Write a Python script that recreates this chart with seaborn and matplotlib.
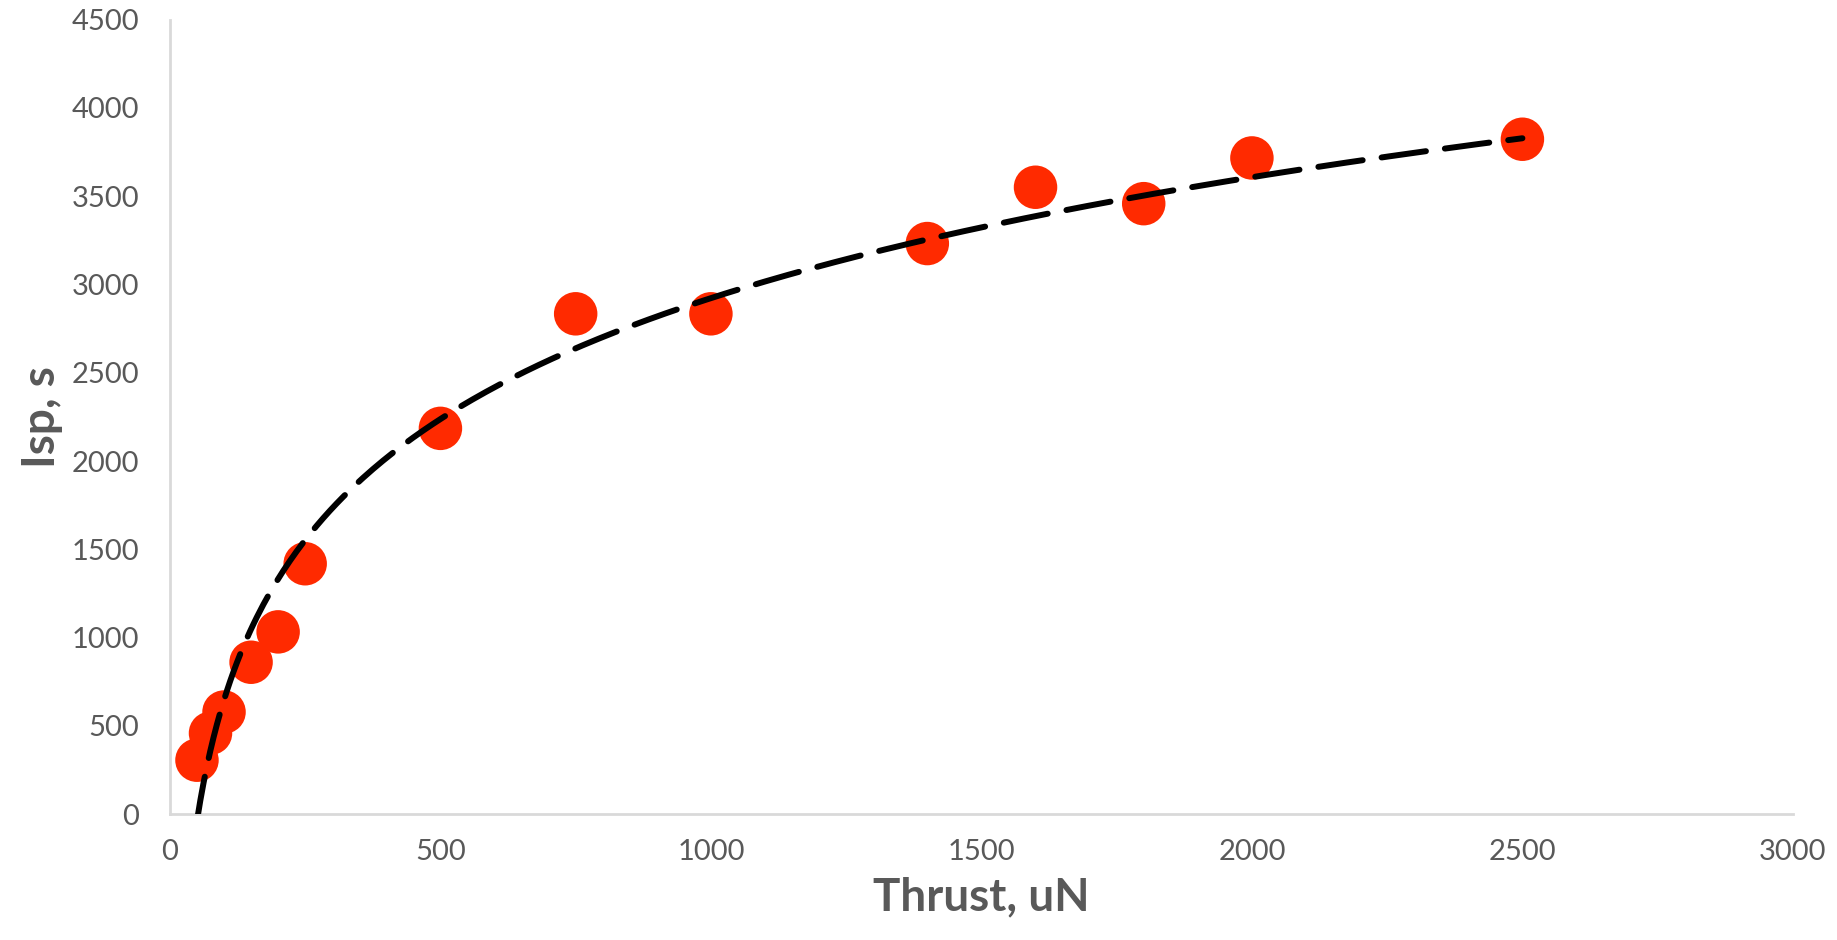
import numpy as np
import pandas as pd
import matplotlib
matplotlib.use("Agg")
import matplotlib.pyplot as plt
import seaborn as sns

# data
thrust = [50, 75, 100, 150, 200, 250, 500, 750, 1000, 1400, 1600, 1800, 2000, 2500]
isp = [305, 458, 578, 860, 1032, 1418, 2185, 2834, 2834, 3232, 3551, 3458, 3717, 3823]

df = pd.DataFrame({"thrust": thrust, "isp": isp})

# logarithmic trendline (like Excel)
a, b = np.polyfit(np.log(df["thrust"]), df["isp"], 1)
fit_x = np.linspace(min(thrust), max(thrust), 400)
fit = pd.DataFrame({"thrust": fit_x, "isp": a * np.log(fit_x) + b})

sns.set_style("white")
plt.rcParams["font.family"] = ["Lato", "DejaVu Sans"]

fig = plt.figure(figsize=(18.37, 9.40), dpi=100)
ax = fig.add_axes([0.0925, 0.134, 0.8835, 0.845])

sns.scatterplot(x="thrust", y="isp", data=df, ax=ax, s=980, color="#ff2a00",
                edgecolor="none", zorder=2)
sns.lineplot(x="thrust", y="isp", data=fit, ax=ax, color="black", linewidth=4.3,
             dashes=False, zorder=3, solid_capstyle="round")
ax.lines[0].set_dashes((7.5, 3.2))
ax.lines[0].set_dash_capstyle("round")

ax.set_xlim(0, 3000)
ax.set_ylim(0, 4500)
ax.set_xticks(np.arange(0, 3001, 500))
ax.set_yticks(np.arange(0, 4501, 500))

for side in ["top", "right"]:
    ax.spines[side].set_visible(False)
for side in ["left", "bottom"]:
    ax.spines[side].set_color("#d9d9d9")
    ax.spines[side].set_linewidth(2)

ax.tick_params(axis="both", length=0, labelsize=21, labelcolor="#595959")
ax.tick_params(axis="x", pad=18)
ax.tick_params(axis="y", pad=22)

ax.set_xlabel("Thrust, uN", fontsize=33, fontweight="bold", color="#595959", labelpad=8)
ax.set_ylabel("Isp, s", fontsize=33, fontweight="bold", color="#595959", labelpad=6)

fig.savefig("out.png", dpi=100)
